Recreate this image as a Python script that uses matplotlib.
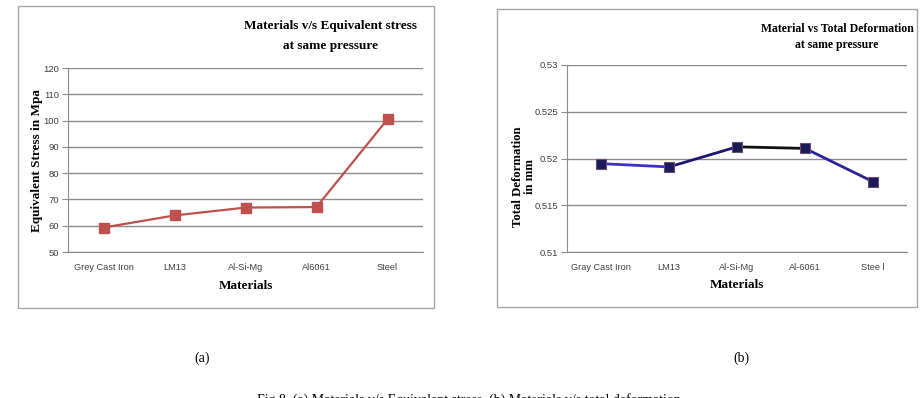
import numpy as np
import matplotlib
matplotlib.use("Agg")
import matplotlib.pyplot as plt
from matplotlib.patches import Rectangle

# data
materials_a = ["Grey Cast Iron", "LM13", "Al-Si-Mg", "Al6061", "Steel"]
stress = [59.3, 63.9, 66.9, 67.1, 100.5]
stress_ticks = [50, 60, 70, 80, 90, 100, 110, 120]

materials_b = ["Gray Cast Iron", "LM13", "Al-Si-Mg", "Al-6061", "Stee l"]
deformation = [0.51945, 0.51910, 0.52125, 0.52108, 0.51752]
deform_ticks = [0.51, 0.515, 0.52, 0.525, 0.53]
deform_labels = ["0.51", "0.515", "0.52", "0.525", "0.53"]
seg_colors = ["#3b2fd0", "#1c1870", "#111111", "#2a2298"]

W, H = 922, 398
fig = plt.figure(figsize=(W / 100, H / 100), dpi=100)

serif = ["Liberation Serif", "DejaVu Serif"]
sans = ["Liberation Sans Narrow", "Liberation Sans", "DejaVu Sans"]


def px(x0, y0, x1, y1):
    # pixel box (top-left origin) -> figure fraction rect
    return [x0 / W, (H - y1) / H, (x1 - x0) / W, (y1 - y0) / H]


def frame(x0, y0, x1, y1):
    fig.patches.append(Rectangle((x0 / W, (H - y1) / H), (x1 - x0) / W, (y1 - y0) / H,
                                 transform=fig.transFigure, fill=False,
                                 edgecolor="#a6a6a6", linewidth=1.0))


def style(ax):
    for s in ["top", "right"]:
        ax.spines[s].set_visible(False)
    ax.spines["left"].set_color("#8c8c8c")
    ax.spines["bottom"].set_color("#8c8c8c")
    ax.grid(axis="y", color="#8c8c8c", linewidth=1.0)
    ax.set_axisbelow(True)
    ax.tick_params(axis="y", length=4, color="#8c8c8c", labelsize=6.8, labelcolor="#404040", pad=2.5)
    ax.tick_params(axis="x", length=0, labelsize=6.6, labelcolor="#404040", pad=8)
    for lab in ax.get_xticklabels() + ax.get_yticklabels():
        lab.set_family(sans)
    ax.set_xlim(-0.5, 4.5)


# (a) equivalent stress
frame(18, 6, 434, 308)
ax1 = fig.add_axes(px(68, 68, 423, 252))
x = np.arange(len(materials_a))
ax1.plot(x, stress, color="#c0504d", linewidth=1.6, marker="s", markersize=6.5,
         markerfacecolor="#c0504d", markeredgecolor="#c0504d")
ax1.set_ylim(50, 120)
ax1.set_yticks(stress_ticks)
ax1.set_xticks(x)
ax1.set_xticklabels(materials_a)
style(ax1)
fig.text(330 / W, 1 - 26 / H, "Materials v/s Equivalent stress", ha="center", va="center",
         family=serif, fontweight="bold", fontsize=9.5)
fig.text(330 / W, 1 - 46 / H, "at same pressure", ha="center", va="center",
         family=serif, fontweight="bold", fontsize=9.5)
fig.text(246 / W, 1 - 286 / H, "Materials", ha="center", va="center",
         family=serif, fontweight="bold", fontsize=9.5)
fig.text(37 / W, 1 - 161 / H, "Equivalent Stress in Mpa", ha="center", va="center",
         rotation=90, family=serif, fontweight="bold", fontsize=9.5)

# (b) total deformation
frame(497, 9, 917, 307)
ax2 = fig.add_axes(px(567, 65, 907, 252))
xb = np.arange(len(materials_b))
for i in range(len(xb) - 1):
    ax2.plot(xb[i:i + 2], deformation[i:i + 2], color=seg_colors[i], linewidth=2.0,
             solid_capstyle="round")
ax2.plot(xb, deformation, linestyle="none", marker="s", markersize=6.5,
         markerfacecolor="#1a1a5a", markeredgecolor="#6b4a6a", markeredgewidth=0.8)
ax2.set_ylim(0.51, 0.53)
ax2.set_yticks(deform_ticks)
ax2.set_yticklabels(deform_labels)
ax2.set_xticks(xb)
ax2.set_xticklabels(materials_b)
style(ax2)
fig.text(837 / W, 1 - 29 / H, "Material vs Total Deformation", ha="center", va="center",
         family=serif, fontweight="bold", fontsize=8.5)
fig.text(837 / W, 1 - 45 / H, "at same pressure", ha="center", va="center",
         family=serif, fontweight="bold", fontsize=8.5)
fig.text(737 / W, 1 - 285 / H, "Materials", ha="center", va="center",
         family=serif, fontweight="bold", fontsize=9.5)
fig.text(518 / W, 1 - 177 / H, "Total Deformation", ha="center", va="center",
         rotation=90, family=serif, fontweight="bold", fontsize=9.2)
fig.text(530 / W, 1 - 177 / H, "in mm", ha="center", va="center",
         rotation=90, family=serif, fontweight="bold", fontsize=9.2)

# captions
fig.text(202 / W, 1 - 358 / H, "(a)", ha="center", va="center", family=serif, fontsize=10)
fig.text(741 / W, 1 - 358 / H, "(b)", ha="center", va="center", family=serif, fontsize=10)
fig.text(257 / W, 1 - 400 / H, "Fig 8. (a) Materials v/s Equivalent stress, (b) Materials v/s total deformation",
         ha="left", va="center", family=serif, fontsize=10)

fig.savefig("out.png", dpi=100)
